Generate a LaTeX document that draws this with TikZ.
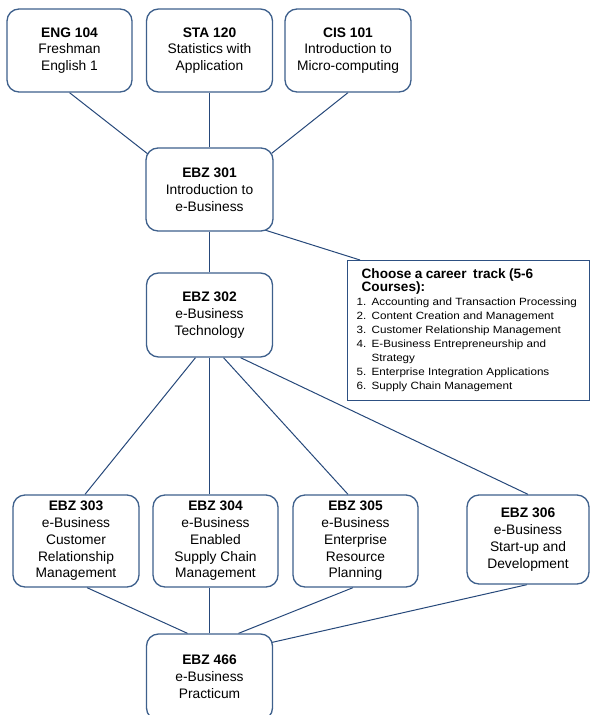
\documentclass[tikz,border=0pt]{standalone}
\usepackage{fontspec}
\setmainfont{Liberation Sans}
\newfontfamily\listfont{Liberation Sans}[FakeStretch=1.11]
\usetikzlibrary{calc,backgrounds}
\definecolor{boxc}{RGB}{62,96,140}
\definecolor{linec}{RGB}{38,72,122}
\definecolor{trackc}{RGB}{45,80,130}
\newcommand\trackitem[2]{\hbox{\makebox[15pt][l]{#1}#2}}
\tikzset{
  course/.style={draw=boxc, line width=1.3pt, rounded corners=12pt, fill=white,
    inner sep=0pt, align=center, font=\fontsize{13.8}{16.8}\selectfont},
  link/.style={draw=linec, line width=1pt},
  trackbox/.style={draw=trackc, line width=1.3pt, fill=white, anchor=north west,
    minimum width=233pt, minimum height=140pt, inner xsep=9pt, inner ysep=0pt, text width=224pt}
}
\begin{document}
\begin{tikzpicture}[x=1pt,y=-1pt]
\useasboundingbox (0,0) rectangle (590,715);
\clip (0,0) rectangle (590,715);
% top row
\node[course, minimum width=125pt, minimum height=83pt] (eng) at (69.5,50.5) {\textbf{ENG 104}\\Freshman\\English 1};
\node[course, minimum width=126pt, minimum height=83pt] (sta) at (209.5,50.5) {\textbf{STA 120}\\Statistics with\\Application};
\node[course, minimum width=126pt, minimum height=83pt] (cis) at (348,50.5) {\textbf{CIS 101}\\Introduction to\\Micro-computing};
% middle
\node[course, minimum width=127pt, minimum height=83pt] (e301) at (209.5,189.5) {\textbf{EBZ 301}\\Introduction to\\e-Business};
\node[course, minimum width=126pt, minimum height=84pt] (e302) at (209.5,315) {\textbf{EBZ 302}\\e-Business\\Technology};
% career track box
\node[trackbox] (career) at (347,260) {%
  \vbox{\fontsize{13.6}{13}\selectfont\bfseries
    \hbox{\hspace{5pt}Choose a career\ \ track (5-6}
    \hbox{\hspace{5pt}Courses):}
    \listfont\mdseries\fontsize{10.5}{14}\selectfont
    \trackitem{1.}{Accounting and Transaction Processing}
    \trackitem{2.}{Content Creation and Management}
    \trackitem{3.}{Customer Relationship Management}
    \trackitem{4.}{E-Business Entrepreneurship and}
    \trackitem{}{Strategy}
    \trackitem{5.}{Enterprise Integration Applications}
    \trackitem{6.}{Supply Chain Management}}};
% bottom row
\node[course, minimum width=126pt, minimum height=92pt] (e303) at (76,541) {\textbf{EBZ 303}\\e-Business\\Customer\\Relationship\\Management};
\node[course, minimum width=125pt, minimum height=92pt] (e304) at (215.5,541) {\textbf{EBZ 304}\\e-Business\\Enabled\\Supply Chain\\Management};
\node[course, minimum width=125pt, minimum height=92pt] (e305) at (355.5,541) {\textbf{EBZ 305}\\e-Business\\Enterprise\\Resource\\Planning};
\node[course, minimum width=122pt, minimum height=89pt] (e306) at (528,539.5) {\textbf{EBZ 306}\\e-Business\\Start-up and\\Development};
\node[course, minimum width=126pt, minimum height=86pt] (e466) at (209.5,677) {\textbf{EBZ 466}\\e-Business\\Practicum};
% connectors
\begin{pgfonlayer}{background}
\draw[link] (eng.south) -- ($(e301.north west)+(3,7)$);
\draw[link] (sta.south) -- (sta.south |- e301.north);
\draw[link] (cis.south) -- ($(e301.north east)+(-2,6)$);
\draw[link] (e301.south) -- (e301.south |- e302.north);
\draw[link] ($(e301.south east)+(-10,-2)$) -- ($(career.north west)+(13,0)$);
\draw[link] ($(e302.south)+(-14,0)$) -- ($(e303.north)+(9,0)$);
\draw[link] (e302.south) -- (e302.south |- e304.north);
\draw[link] ($(e302.south)+(14,0)$) -- ($(e305.north)+(-7.5,0)$);
\draw[link] ($(e302.south)+(31,0)$) -- (e306.north);
\draw[link] ($(e303.south)+(11,0)$) -- ($(e466.north)+(-22,0)$);
\draw[link] (e466.north) -- (e466.north |- e304.south);
\draw[link] ($(e305.south)+(-2.5,0)$) -- ($(e466.north)+(29,0)$);
\draw[link] ($(e306.south)+(-1,0)$) -- ($(e466.north east)+(-1,9)$);
\end{pgfonlayer}
\end{tikzpicture}
\end{document}
